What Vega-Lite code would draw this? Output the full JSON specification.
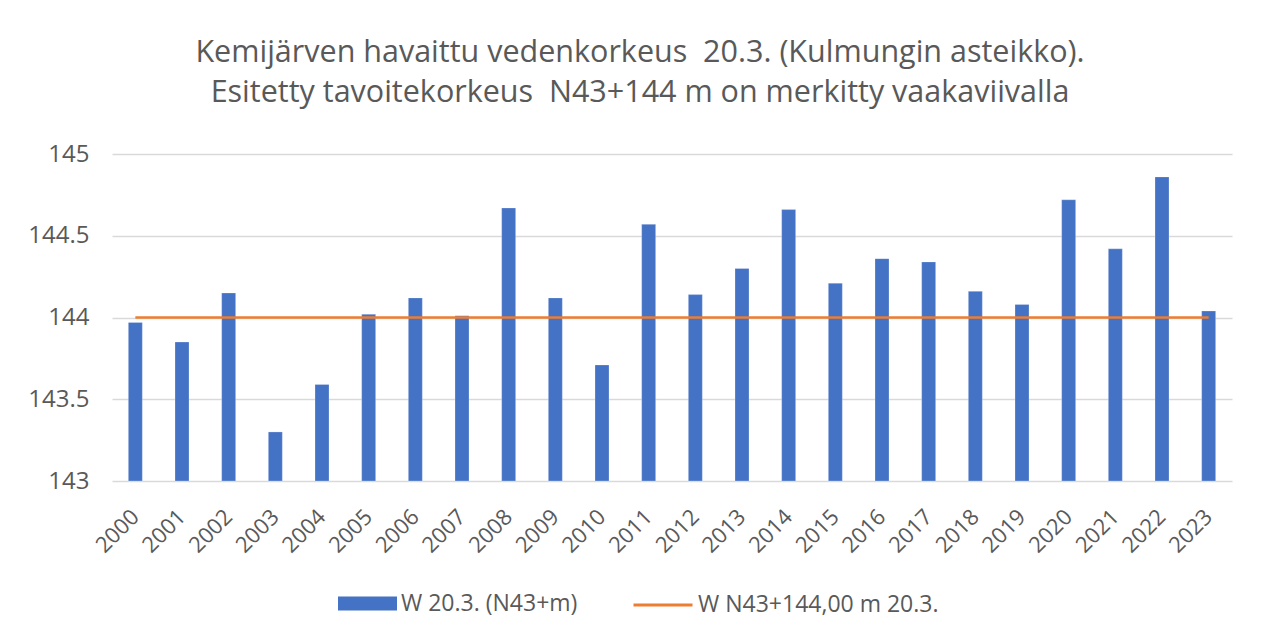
{
  "$schema": "https://vega.github.io/schema/vega-lite/v6.json",
  "autosize": "none",
  "width": 1120,
  "height": 327,
  "padding": {"left": 112, "top": 154, "right": 31, "bottom": 158},
  "background": "white",
  "title": {
    "text": ["Kemijärven havaittu vedenkorkeus \u00a020.3. (Kulmungin asteikko).", "Esitetty tavoitekorkeus \u00a0N43+144 m on merkitty vaakaviivalla"],
    "font": "Open Sans",
    "fontSize": 30.5,
    "fontWeight": "normal",
    "color": "#595959",
    "lineHeight": 40,
    "anchor": "middle",
    "dx": -32,
    "offset": 34
  },
  "data": {
    "values": [
      {"year": "2000", "level": 143.97, "target": 144},
      {"year": "2001", "level": 143.85, "target": 144},
      {"year": "2002", "level": 144.15, "target": 144},
      {"year": "2003", "level": 143.30, "target": 144},
      {"year": "2004", "level": 143.59, "target": 144},
      {"year": "2005", "level": 144.02, "target": 144},
      {"year": "2006", "level": 144.12, "target": 144},
      {"year": "2007", "level": 144.01, "target": 144},
      {"year": "2008", "level": 144.67, "target": 144},
      {"year": "2009", "level": 144.12, "target": 144},
      {"year": "2010", "level": 143.71, "target": 144},
      {"year": "2011", "level": 144.57, "target": 144},
      {"year": "2012", "level": 144.14, "target": 144},
      {"year": "2013", "level": 144.30, "target": 144},
      {"year": "2014", "level": 144.66, "target": 144},
      {"year": "2015", "level": 144.21, "target": 144},
      {"year": "2016", "level": 144.36, "target": 144},
      {"year": "2017", "level": 144.34, "target": 144},
      {"year": "2018", "level": 144.16, "target": 144},
      {"year": "2019", "level": 144.08, "target": 144},
      {"year": "2020", "level": 144.72, "target": 144},
      {"year": "2021", "level": 144.42, "target": 144},
      {"year": "2022", "level": 144.86, "target": 144},
      {"year": "2023", "level": 144.04, "target": 144}
    ]
  },
  "encoding": {
    "x": {
      "field": "year",
      "type": "nominal",
      "sort": null,
      "scale": {"paddingInner": 0.7, "paddingOuter": 0.35},
      "axis": {
        "title": null,
        "labelAngle": -45,
        "labelAlign": "right",
        "labelBaseline": "middle",
        "labelFont": "Open Sans",
        "labelFontSize": 22,
        "labelColor": "#595959",
        "labelPadding": 32,
        "ticks": false,
        "domain": false,
        "grid": false
      }
    }
  },
  "layer": [
    {
      "mark": {"type": "bar", "stroke": "#ffffff", "strokeWidth": 0.5, "strokeOpacity": 0.5},
      "encoding": {
        "y": {
          "field": "level",
          "type": "quantitative",
          "scale": {"domain": [143, 145], "zero": false, "nice": false},
          "axis": {
            "title": null,
            "values": [143, 143.5, 144, 144.5, 145],
            "format": "~f",
            "labelFont": "Open Sans",
            "labelFontSize": 24,
            "labelColor": "#595959",
            "labelPadding": 23,
            "ticks": false,
            "domain": false,
            "gridColor": "#D9D9D9",
            "gridWidth": 1.5
          }
        },
        "y2": {"datum": 143},
        "fill": {
          "datum": "W 20.3. (N43+m)",
          "type": "nominal",
          "scale": {"range": ["#4472C4"]},
          "legend": {
            "title": null,
            "orient": "none",
            "legendX": 226,
            "legendY": 420,
            "symbolType": "M-1,-0.24H1V0.24H-1Z",
            "symbolSize": 3481,
            "symbolStrokeWidth": 0,
            "labelFont": "Open Sans",
            "labelFontSize": 23,
            "labelColor": "#595959",
            "labelOffset": 4,
            "labelLimit": 400
          }
        }
      }
    },
    {
      "mark": {"type": "line", "strokeWidth": 2.5},
      "encoding": {
        "y": {"field": "target", "type": "quantitative"},
        "stroke": {
          "datum": "W N43+144,00 m 20.3.",
          "type": "nominal",
          "scale": {"range": ["#ED7D31"]},
          "legend": {
            "title": null,
            "orient": "none",
            "legendX": 520,
            "legendY": 420,
            "symbolType": "stroke",
            "symbolSize": 3481,
            "symbolStrokeWidth": 3,
            "labelFont": "Open Sans",
            "labelFontSize": 23,
            "labelColor": "#595959",
            "labelOffset": 4,
            "labelLimit": 400
          }
        }
      }
    }
  ],
  "config": {
    "view": {"stroke": null}
  }
}
